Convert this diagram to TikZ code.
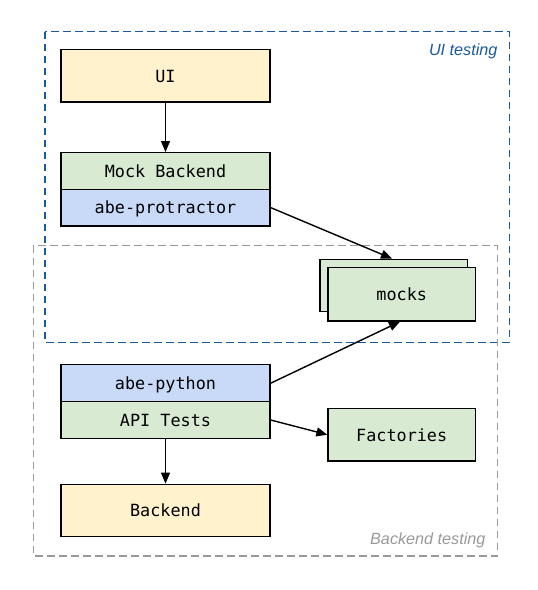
\documentclass[tikz,border=0pt]{standalone}
\usepackage{fontspec}
\setmonofont{DejaVu Sans Mono}
\setsansfont{Liberation Sans}
\usetikzlibrary{arrows.meta}
\definecolor{cyellow}{HTML}{FFF2CC}
\definecolor{cgreen}{HTML}{D9EAD3}
\definecolor{cblue}{HTML}{C9DAF8}
\definecolor{fblue}{HTML}{1A5A9A}
\definecolor{fgray}{HTML}{999999}
\tikzset{
  box/.style={draw=black, line width=1.4pt, rectangle, inner sep=0pt,
    font=\ttfamily\fontsize{16.8}{18}\selectfont, text height=12.6pt, text depth=0pt},
  wbox/.style={box, minimum width=209pt},
  sbox/.style={box, minimum width=147.3pt},
  frame/.style={line width=1.4pt, dash pattern=on 7.5pt off 4.5pt},
  conn/.style={line width=1.4pt, -{Triangle[length=11pt,width=9pt]}},
  lbl/.style={font=\sffamily\itshape\fontsize{16.2}{18}\selectfont, anchor=base east}
}
\begin{document}
\begin{tikzpicture}[x=1pt,y=-1pt]
\useasboundingbox (0,0) rectangle (538,590);
% frames
\draw[frame, draw=fblue] (45,31.7) rectangle (509.3,342.3);
\draw[frame, draw=fgray] (33.3,245.7) rectangle (497.3,556);
\node[lbl, text=fblue] (uilbl) at (501,55) {UI testing};
\node[lbl, text=fgray] (belbl) at (489,544) {Backend testing};
% boxes
\node[wbox, fill=cyellow, minimum height=52.7pt] (ui) at (165.5,75.7) {UI};
\node[wbox, fill=cgreen, minimum height=36.6pt] (mock) at (165.5,171) {Mock Backend};
\node[wbox, fill=cblue, minimum height=36.7pt] (prot) at (165.5,207.6) {abe-protractor};
\node[sbox, fill=cgreen, minimum height=52.4pt] (mocksback) at (393.7,285.5) {};
\node[sbox, fill=cgreen, minimum height=53.3pt] (mocks) at (401.7,294.3) {mocks};
\node[wbox, fill=cblue, minimum height=37pt] (py) at (165.5,383.2) {abe-python};
\node[wbox, fill=cgreen, minimum height=36.6pt] (api) at (165.5,420) {API Tests};
\node[sbox, fill=cgreen, minimum height=52.7pt] (fact) at (401.7,434.7) {Factories};
\node[wbox, fill=cyellow, minimum height=52.4pt] (be) at (165.5,510.5) {Backend};
% connectors
\draw[conn] (ui.south) -- (mock.north);
\draw[conn] (prot.east) -- (mocksback.north -| 392,0);
\draw[conn] (py.east) -- (mocks.south -| 400,0);
\draw[conn] (api.east) -- (fact.west);
\draw[conn] (api.south) -- (be.north);
\end{tikzpicture}
\end{document}
